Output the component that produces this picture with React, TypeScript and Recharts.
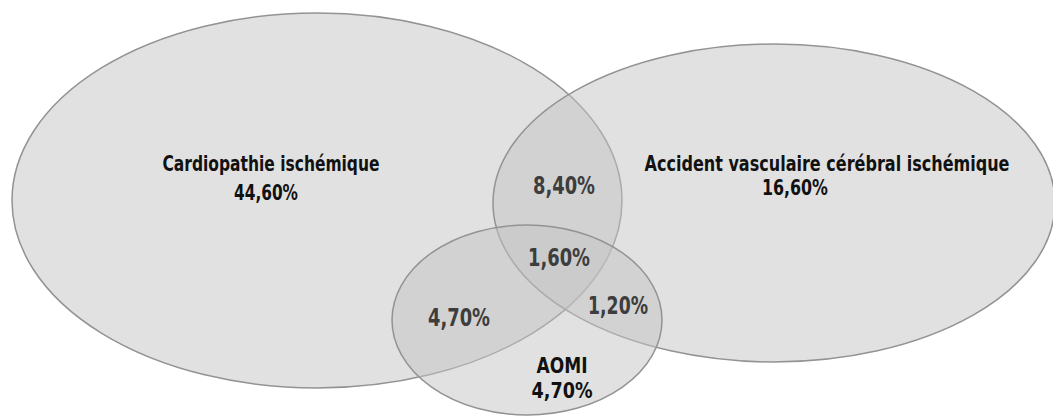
import { ComposedChart, XAxis, YAxis, ReferenceArea, Scatter } from "recharts";

const W = 1053;
const H = 419;

// the three sets and their exclusive shares
const setNames = ["Cardiopathie ischémique", "Accident vasculaire cérébral ischémique", "AOMI"];
const setShares = ["44,60%", "16,60%", "4,70%"];

// the overlaps (cardio∩avc, all three, avc∩aomi, cardio∩aomi)
const overlapShares = ["8,40%", "1,60%", "1,20%", "4,70%"];

// ellipse extents, in chart units (x 0..1053, y 0..419 from the top)
const ellipseBoxes = [
  { x1: 12, x2: 622, y1: 13, y2: 388 },
  { x1: 493, x2: 1055, y1: 44, y2: 362 },
  { x1: 392, x2: 662, y1: 225, y2: 415 },
];
// label placement: centre and rendered width (the original uses a condensed face)
const setNamePos = [
  { x: 271, y: 163, w: 217 },
  { x: 827, y: 163, w: 365 },
  { x: 562, y: 365, w: 51 },
];
const setSharePos = [
  { x: 266, y: 192, w: 64 },
  { x: 795, y: 187, w: 66 },
  { x: 562, y: 390, w: 61 },
];
const overlapPos = [
  { x: 564, y: 185, w: 62 },
  { x: 559, y: 257, w: 62 },
  { x: 618, y: 305, w: 60 },
  { x: 459, y: 317, w: 62 },
];

const FONT = "'DejaVu Sans Condensed', 'DejaVu Sans', sans-serif";
const SQUEEZE = 0.78; // horizontal squeeze to mimic the condensed face

const labels = [
  ...setNames.map((t, i) => ({ ...setNamePos[i], text: t, kind: "set" })),
  ...setShares.map((t, i) => ({ ...setSharePos[i], text: t, kind: "set" })),
  ...overlapShares.map((t, i) => ({ ...overlapPos[i], text: t, kind: "overlap" })),
];

const EllipseShape = (props: any) => {
  const { x, y, width, height } = props;
  return (
    <ellipse
      cx={x + width / 2}
      cy={y + height / 2}
      rx={width / 2}
      ry={height / 2}
      fill="#c3c3c3"
      fillOpacity={0.5}
      stroke="#939393"
      strokeWidth={1.5}
    />
  );
};

const LabelShape = (props: any) => {
  const { cx, cy, payload } = props;
  if (cx === undefined || cy === undefined || !payload) return null;
  const isSet = payload.kind === "set";
  return (
    <g transform={`translate(${cx},${cy}) scale(${SQUEEZE},1)`}>
      <text
        x={0}
        y={0}
        dy="0.36em"
        textAnchor="middle"
        fontFamily={FONT}
        fontWeight="bold"
        fontSize={isSet ? 21.5 : 25.5}
        fill={isSet ? "#111111" : "#3d3d3d"}
        textLength={payload.w / SQUEEZE}
        lengthAdjust="spacingAndGlyphs"
      >
        {payload.text}
      </text>
    </g>
  );
};

export default function App() {
  return (
    <div style={{ position: "absolute", left: 0, top: 0, width: W, height: H, background: "#ffffff" }}>
      <ComposedChart width={W} height={H} margin={{ top: 0, right: 0, bottom: 0, left: 0 }}>
        <XAxis type="number" dataKey="x" domain={[0, W]} hide />
        <YAxis type="number" dataKey="y" domain={[0, H]} reversed hide />
        {ellipseBoxes.map((b, i) => (
          <ReferenceArea
            key={i}
            x1={b.x1}
            x2={b.x2}
            y1={b.y1}
            y2={b.y2}
            ifOverflow="visible"
            shape={EllipseShape}
          />
        ))}
        <Scatter data={labels} shape={LabelShape} isAnimationActive={false} />
      </ComposedChart>
    </div>
  );
}
